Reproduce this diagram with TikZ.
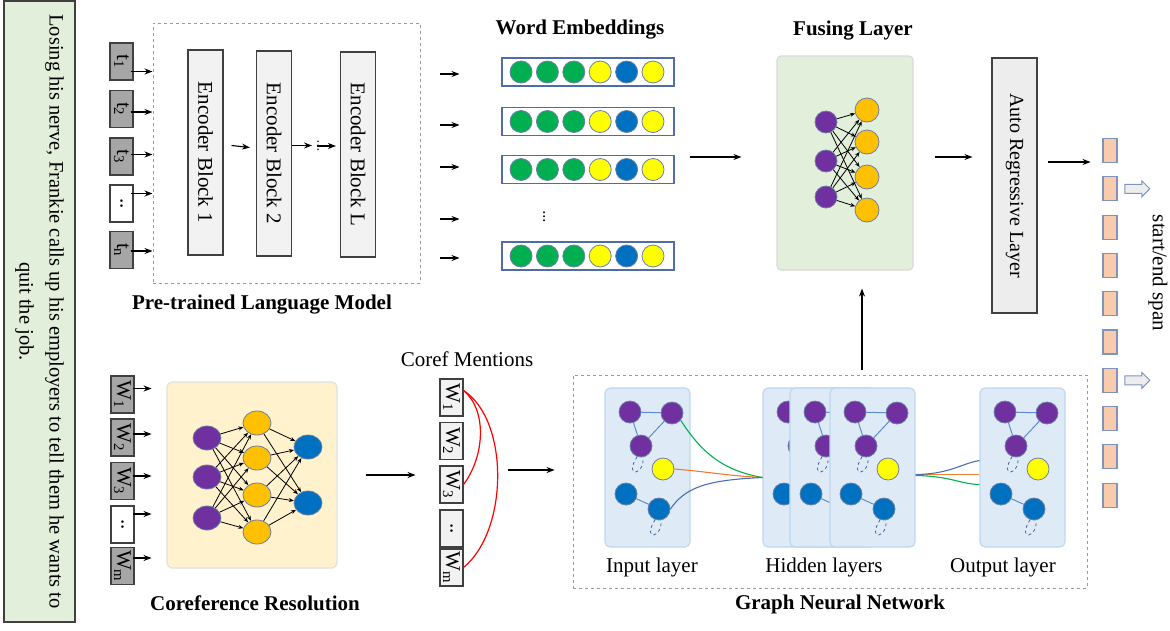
\documentclass[tikz,border=0pt]{standalone}
\usepackage{fontspec}
\setmainfont{Liberation Serif}
\usepackage{graphicx}
\usetikzlibrary{arrows.meta, shapes.geometric, shapes.arrows, calc}

\definecolor{tokgray}{HTML}{A6A6A6}
\definecolor{boxgray}{HTML}{F2F2F2}
\definecolor{argray}{HTML}{EDEDED}
\definecolor{edgegray}{HTML}{404040}
\definecolor{dashgray}{HTML}{9A9A9A}
\definecolor{sentgreen}{HTML}{E2EFDA}
\definecolor{fusegreen}{HTML}{E2EFDA}
\definecolor{corefyellow}{HTML}{FFF2CC}
\definecolor{panelblue}{HTML}{DEEBF7}
\definecolor{panelline}{HTML}{BDD7EE}
\definecolor{spanpeach}{HTML}{F8CBAD}
\definecolor{spanline}{HTML}{7F93BD}
\definecolor{embline}{HTML}{4F6BA8}
\definecolor{unitline}{HTML}{6B7FA6}
\definecolor{cpurple}{HTML}{7030A0}
\definecolor{corange}{HTML}{FFC000}
\definecolor{cblue}{HTML}{0070C0}
\definecolor{cgreen}{HTML}{00B050}
\definecolor{cyellow}{HTML}{FFFF00}
\definecolor{lineblue}{HTML}{5B8BD0}
\definecolor{loopblue}{HTML}{44649C}
\definecolor{wirered}{HTML}{FF0000}
\definecolor{wireorange}{HTML}{ED7D31}
\definecolor{wiregreen}{HTML}{00B050}
\definecolor{wireblue}{HTML}{4F6DB5}

\tikzset{
  >={Stealth[length=8pt,width=6pt]},
  txt/.style={font=\fontsize{21}{25}\selectfont, inner sep=0},
  title/.style={font=\fontsize{21}{25}\selectfont\bfseries, inner sep=0},
  sentbox/.style={draw=edgegray, fill=sentgreen, minimum width=71, minimum height=621, inner sep=0},
  dashbox/.style={draw=dashgray, dashed, line width=1, inner sep=0},
  tok/.style={draw=edgegray, fill=tokgray, minimum width=23, minimum height=37, inner sep=0, font=\fontsize{21}{25}\selectfont},
  ment/.style={tok, fill=boxgray},
  encblock/.style={draw=edgegray, fill=boxgray, minimum width=35, minimum height=205, inner sep=0, font=\fontsize{21}{25}\selectfont},
  arbox/.style={draw=edgegray, fill=argray, minimum width=45, minimum height=255, inner sep=0, font=\fontsize{20}{24}\selectfont},
  embbox/.style={draw=embline, fill=white, line width=1.2, minimum width=172, minimum height=28, inner sep=0},
  unit/.style={circle, draw=unitline, line width=0.8, minimum size=22, inner sep=0},
  cunit/.style={ellipse, draw=unitline, line width=0.8, minimum width=28, minimum height=24, inner sep=0},
  gnode/.style={circle, draw=unitline, line width=0.8, minimum size=22, inner sep=0},
  fusebox/.style={draw=black!15, fill=fusegreen, rounded corners=4, minimum width=136, minimum height=214, inner sep=0},
  corefbox/.style={draw=black!12, fill=corefyellow, rounded corners=5, minimum width=170, minimum height=186, inner sep=0},
  panel/.style={draw=panelline, fill=panelblue, rounded corners=5, minimum width=85, minimum height=159, inner sep=0},
  spanbox/.style={draw=spanline, fill=spanpeach, minimum width=14, minimum height=24, inner sep=0},
  hollow/.style={single arrow, draw=spanline, fill=argray, line width=1, minimum height=25, minimum width=0, inner xsep=0, inner ysep=4, single arrow head extend=3.5},
  net/.style={->, >={Stealth[length=5pt,width=4pt]}, line width=0.8},
  gline/.style={draw=lineblue, line width=1},
  gloop/.style={draw=loopblue, dashed, line width=0.8},
  wire/.style={line width=1.1},
}

\begin{document}
\begin{tikzpicture}[x=1pt, y=-1pt, line width=1.1pt]
\useasboundingbox (0,0) rectangle (1170,630);

\node[sentbox] (sent) at (39.5,311.5) {};
\node[txt, rotate=-90, align=center, font=\fontsize{20.5}{30}\selectfont] at (sent.center) {Losing his nerve, Frankie calls up his employers to tell them he wants to\\quit the job.};

\node[dashbox, minimum width=267, minimum height=260] (plm) at (286.5,153) {};
\node[tok] (t1) at (121.5,61.5) {\rotatebox{-90}{t\textsubscript{1}}};
\node[tok] (t2) at (121.5,109) {\rotatebox{-90}{t\textsubscript{2}}};
\node[tok] (t3) at (121.5,156.5) {\rotatebox{-90}{t\textsubscript{3}}};
\node[tok, fill=white] (tdot) at (121.5,203.5) {\rotatebox{-90}{..}};
\node[tok] (tn) at (121.5,250) {\rotatebox{-90}{t\textsubscript{n}}};
\foreach \n/\dy in {t1/10, t2/3, t3/-2, tdot/-10, tn/1}
  \draw[->] ($(\n.east)+(-3,\dy)$) -- ($(\n.east -| plm.west)+(0,\dy)$);

\node[encblock] (enc1) at (205.5,152.5) {\rotatebox{-90}{Encoder Block 1}};
\node[encblock] (enc2) at (274,153.5) {\rotatebox{-90}{Encoder Block 2}};
\node[encblock] (encL) at (358,154.5) {\rotatebox{-90}{Encoder Block L}};
\draw[->] ($(enc1.east)+(8,-7)$) -- ($(enc2.west)+(-6,-6)$);
\draw[->] ($(enc2.east)+(0,-8)$) -- ++(20,0);
\node[txt, font=\fontsize{14}{14}\selectfont] (encdots) at (318,143) {$\vdots$};
\draw[->] ($(encL.west)+(-23,-8.5)$) -- ($(encL.west)+(-4,-8.5)$);
\node[title] at (262,305) {Pre-trained Language Model};

\foreach \y in {74,125,167,219,258}
  \draw[->] ($(plm.east)+(19,\y-153)$) -- ++(20,0);
\foreach \r/\y in {1/72, 2/121.5, 3/169.5, 4/256} {
  \node[embbox] (emb\r) at (588,\y) {};
  \foreach \c [count=\i from 0] in {cgreen,cgreen,cgreen,cyellow,cblue,cyellow}
    \node[unit, fill=\c] (emb\r-\i) at (521+26.4*\i,\y) {};
}
\node[txt, font=\fontsize{16}{16}\selectfont] (embdots) at (544,214) {$\vdots$};
\node[title] at (580,30) {Word Embeddings};

\node[fusebox] (fuse) at (845,163) {};
\node[title] at (853,31) {Fusing Layer};
\foreach \i/\y in {1/122, 2/161, 3/197}
  \node[unit, fill=cpurple] (fp\i) at (826,\y) {};
\foreach \j/\y in {1/110, 2/142, 3/177, 4/210}
  \node[unit, fill=corange, minimum size=24] (fo\j) at (867,\y) {};
\foreach \i in {1,2,3}
  \foreach \j in {1,...,4}
    \draw[net] (fp\i) -- (fo\j);
\draw[->] ($(emb1.east |- fuse.west)+(15,-6)$) -- ($(fuse.west)+(-35,-6)$);

\node[arbox] (ar) at (1014.5,185.5) {\rotatebox{-90}{Auto Regressive Layer}};
\draw[->] ($(fuse.east)+(21,-6)$) -- ($(fuse.east -| ar.west)+(-19,-6)$);
\draw[->] ($(ar.east)+(10,-23.5)$) -- ++(43,0);

\foreach \i in {0,...,9}
  \node[spanbox] (s\i) at (1110,150.5+38.3*\i) {};
\node[hollow] (pick1) at ($(s1.east)+(17.5,0)$) {};
\node[hollow] (pick2) at ($(s6.east)+(17.5,0)$) {};
\node[txt, rotate=-90] at (1158,273) {start/end span};

\node[tok] (w1) at (122.5,394.5) {\rotatebox{-90}{W\textsubscript{1}}};
\node[tok] (w2) at (122.5,437.5) {\rotatebox{-90}{W\textsubscript{2}}};
\node[tok] (w3) at (122.5,481) {\rotatebox{-90}{W\textsubscript{3}}};
\node[tok, fill=white] (wdot) at (122.5,524.5) {\rotatebox{-90}{..}};
\node[tok] (wm) at (122.5,566) {\rotatebox{-90}{W\textsubscript{m}}};
\foreach \n/\dy in {w1/-6, w2/-3.5, w3/-5, wdot/-10.5, wm/-8}
  \draw[->] ($(\n.east)+(-2,\dy)$) -- ++(19,0);

\node[corefbox] (coref) at (252,475) {};
\foreach \i/\y in {1/438, 2/477, 3/518}
  \node[cunit, fill=cpurple] (cp\i) at (207,\y) {};
\foreach \j/\y in {1/423, 2/458, 3/495, 4/532}
  \node[cunit, fill=corange] (co\j) at (257,\y) {};
\foreach \k/\y in {1/447, 2/503}
  \node[cunit, fill=cblue] (cb\k) at (308,\y) {};
\foreach \i in {1,2,3}
  \foreach \j in {1,...,4}
    \draw[net] (cp\i) -- (co\j);
\foreach \j in {1,...,4}
  \foreach \k in {1,2}
    \draw[net] (co\j) -- (cb\k);
\node[title] at (255,603) {Coreference Resolution};
\draw[->] ($(coref.east)+(28,0)$) -- ++(50,0);

\node[txt] at (467,359) {Coref Mentions};
\node[ment] (m1) at (451.5,397.5) {\rotatebox{-90}{W\textsubscript{1}}};
\node[ment] (m2) at (451.5,441) {\rotatebox{-90}{W\textsubscript{2}}};
\node[ment] (m3) at (451.5,484.5) {\rotatebox{-90}{W\textsubscript{3}}};
\node[ment] (mdot) at (451.5,528.5) {\rotatebox{-90}{..}};
\node[ment] (mm) at (451.5,567.5) {\rotatebox{-90}{W\textsubscript{m}}};
\draw[wirered, line width=1.2] ($(m1.east)+(0,-7)$) .. controls +(24,20) and +(21,-28) .. (m3.east);
\draw[wirered, line width=1.2] ($(m1.east)+(0,-7)$) .. controls +(46,30) and +(45,-37) .. (mm.east);
\draw[->] ($(m3.east)+(44,-14.5)$) -- ++(47,0);

\node[dashbox, minimum width=514, minimum height=213] (gnn) at (830,481.5) {};
\node[title] at (840,604) {Graph Neural Network};
\draw[->] ($(gnn.north -| fuse.south)+(17,-5)$) -- ($(fuse.south)+(17,18)$);
\foreach \n/\x in {inp/605, hida/763, hidb/790, hidc/830, outp/980} {
  \node[panel] (\n) at (\x+42.5,467.5) {};
  \node[gnode, fill=cpurple] (\n-p1) at (\x+25,412) {};
  \node[gnode, fill=cpurple] (\n-p2) at (\x+67,413) {};
  \node[gnode, fill=cpurple] (\n-p3) at (\x+36,446) {};
  \node[gnode, fill=cyellow] (\n-y) at (\x+58,469) {};
  \node[gnode, fill=cblue] (\n-b1) at (\x+21,494) {};
  \node[gnode, fill=cblue] (\n-b2) at (\x+54,509) {};
  \draw[gline] (\n-p1) -- (\n-p2) (\n-p1) -- (\n-p3) (\n-p2) -- (\n-p3) (\n-b1) -- (\n-b2);
  \draw[gloop] (\n-p3.250) .. controls +(-14,22) and +(2,18) .. (\n-p3.280);
  \draw[gloop] (\n-b2.250) .. controls +(-14,22) and +(2,18) .. (\n-b2.280);
}
\node[txt] at (652,567) {Input layer};
\node[txt] at (824,567) {Hidden layers};
\node[txt] at (1003,567) {Output layer};

\draw[wire, wiregreen] (inp-p2.-40) .. controls (700,450) and (720,470) .. ($(hida.west)+(0,10)$);
\draw[wire, wireorange] (inp-y.east) .. controls (710,472) and (730,476) .. ($(hida.west)+(0,10)$);
\draw[wire, wireblue] (inp-b2.east) .. controls (685,488) and (705,480) .. ($(hida.west)+(0,10)$);
\draw[wire, wireorange] ($(hidc.east)+(0,7)$) -- ($(outp.west)+(0,7)$);
\draw[wire, wireblue] ($(hidc.east)+(0,7)$) .. controls (950,474) and (960,464) .. ($(outp.west)+(0,-7)$);
\draw[wire, wiregreen] ($(hidc.east)+(0,8)$) .. controls (950,476) and (960,484) .. ($(outp.west)+(0,17)$);
\end{tikzpicture}
\end{document}
